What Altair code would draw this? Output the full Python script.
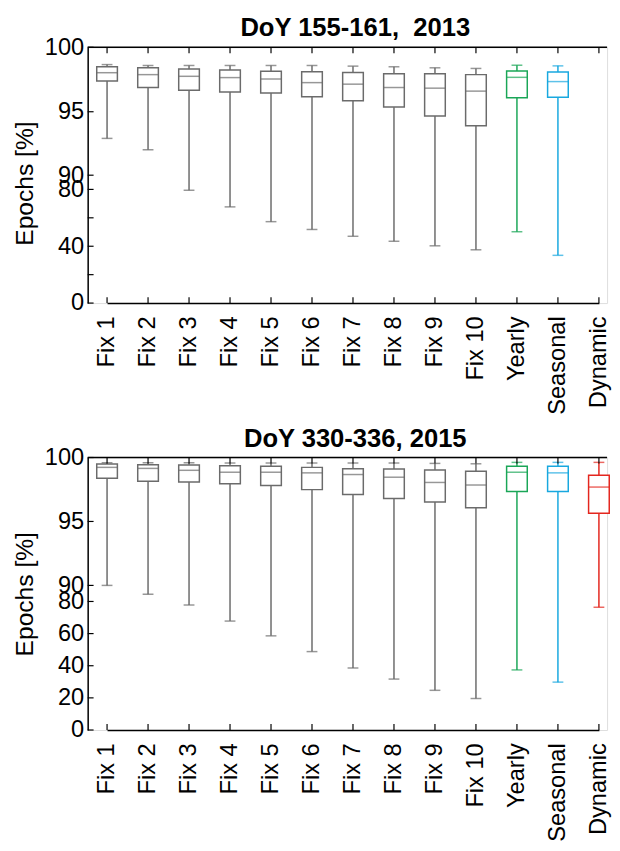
import altair as alt
import pandas as pd

categories = ["Fix 1", "Fix 2", "Fix 3", "Fix 4", "Fix 5", "Fix 6", "Fix 7",
              "Fix 8", "Fix 9", "Fix 10", "Yearly", "Seasonal", "Dynamic"]
groups = ["Fixed"] * 10 + ["Yearly", "Seasonal", "Dynamic"]

# DoY 155-161, 2013 (no Dynamic box)
top_min = [92.9, 92.0, 79.4, 67.7, 57.3, 51.8, 47.0, 43.5, 40.3, 37.5, 50.2, 33.6, None]
top_q1 = [97.39, 96.89, 96.66, 96.53, 96.45, 96.17, 95.86, 95.36, 94.67, 93.89, 96.09, 96.12, None]
top_med = [98.03, 97.88, 97.75, 97.65, 97.54, 97.26, 97.14, 96.88, 96.83, 96.60, 97.67, 97.34, None]
top_q3 = [98.49, 98.41, 98.31, 98.24, 98.15, 98.10, 98.05, 97.95, 97.95, 97.88, 98.16, 98.08, None]
top_max = [98.66, 98.59, 98.59, 98.59, 98.59, 98.59, 98.54, 98.49, 98.41, 98.36, 98.61, 98.56, None]

# DoY 330-336, 2015
bot_min = [90.0, 84.5, 77.8, 67.8, 58.6, 48.8, 38.6, 31.7, 24.7, 19.6, 37.4, 29.8, 76.4]
bot_q1 = [98.38, 98.15, 98.08, 97.95, 97.82, 97.49, 97.10, 96.80, 96.52, 96.08, 97.34, 97.34, 95.65]
bot_med = [99.23, 99.15, 99.00, 98.85, 98.85, 98.80, 98.67, 98.46, 98.05, 97.85, 98.85, 98.80, 97.69]
bot_q3 = [99.49, 99.44, 99.42, 99.36, 99.31, 99.23, 99.13, 99.10, 99.03, 98.92, 99.31, 99.31, 98.62]
bot_max = [99.59, 99.59, 99.59, 99.57, 99.57, 99.57, 99.57, 99.57, 99.54, 99.51, 99.62, 99.62, 99.62]

y_ticks = [0, 20, 40, 60, 80, 90, 95, 100]
y_domain = [0, 90, 95, 100]

group_domain = ["Fixed", "Yearly", "Seasonal", "Dynamic"]
group_colors = ["#6b6b6b", "#1aa657", "#18a8df", "#e4261e"]

FONT = "Liberation Sans"
W = 528


def panel(mins, q1s, meds, q3s, maxs, title, h, yrange, hidden_labels, title_y):
    df = pd.DataFrame({"cat": categories, "group": groups, "lo": mins,
                       "q1": q1s, "med": meds, "q3": q3s, "hi": maxs}).dropna()
    cats_df = pd.DataFrame({"cat": categories})
    ticks_df = pd.DataFrame({"v": y_ticks})
    one_df = pd.DataFrame({"k": [0]})

    xscale = alt.Scale(type="point", domain=categories, range=[19.7, 519.7], padding=0)
    yscale = alt.Scale(domain=y_domain, range=yrange, zero=False, nice=False)
    color = alt.Color("group:N", scale=alt.Scale(domain=group_domain, range=group_colors), legend=None)
    stroke = alt.Stroke("group:N", scale=alt.Scale(domain=group_domain, range=group_colors), legend=None)

    if hidden_labels:
        cond = " || ".join(f"datum.value == {v}" for v in hidden_labels)
        label_expr = f"({cond}) ? '' : datum.label"
    else:
        label_expr = "datum.label"

    xaxis = alt.Axis(title=None, labelAngle=270, labelFontSize=24, labelFont=FONT,
                     labelColor="black", ticks=False, labelPadding=13,
                     domainColor="black", domainWidth=1.5, labelAlign="right",
                     labelBaseline="middle")
    yaxis = alt.Axis(values=y_ticks, title="Epochs [%]", titleFontSize=25,
                     titleFont=FONT, titleFontWeight="normal", titleColor="black",
                     labelFontSize=24, labelFont=FONT, labelColor="black",
                     ticks=False, labelPadding=4, titlePadding=7, titleY=title_y,
                     labelExpr=label_expr, grid=False, domainColor="black",
                     domainWidth=1.5, labelOverlap=False, labelFlush=False)

    X = alt.X("cat:N", scale=xscale, axis=xaxis)

    def Y(field):
        return alt.Y(field, scale=yscale, axis=yaxis)

    base = alt.Chart(df)
    whisk = base.mark_rule(strokeWidth=1.5).encode(x=X, y=Y("lo:Q"), y2="hi:Q", color=color)
    box = base.mark_bar(fill="white", strokeWidth=1.5, size=21).encode(
        x=X, y=Y("q1:Q"), y2="q3:Q", stroke=stroke)
    med = base.mark_tick(size=21, thickness=1.5).encode(x=X, y=Y("med:Q"), color=color)
    cap_lo = base.mark_tick(size=11, thickness=1.5).encode(x=X, y=Y("lo:Q"), color=color)
    cap_hi = base.mark_tick(size=11, thickness=1.5).encode(x=X, y=Y("hi:Q"), color=color)

    cat_chart = alt.Chart(cats_df)
    xt_bot = cat_chart.mark_rule(color="black", strokeWidth=1.2).encode(
        x=X, y=alt.value(h), y2=alt.value(h - 6))
    xt_top = cat_chart.mark_rule(color="black", strokeWidth=1.2).encode(
        x=X, y=alt.value(0), y2=alt.value(6))
    top_line = alt.Chart(one_df).mark_rule(color="black", strokeWidth=1.5).encode(
        x=alt.value(0), x2=alt.value(W), y=alt.value(0))
    yt = alt.Chart(ticks_df).mark_rule(color="black", strokeWidth=1.2).encode(
        y=Y("v:Q"), x=alt.value(0), x2=alt.value(6))

    return alt.layer(whisk, box, med, cap_lo, cap_hi, xt_bot, xt_top, top_line, yt).properties(
        width=W, height=h,
        title=alt.TitleParams(title, fontSize=26, font=FONT, fontWeight="bold", color="black",
                              anchor="middle", dx=8, offset=-6, frame="group"),
    )


top = panel(top_min, top_q1, top_med, top_q3, top_max, "DoY 155-161,\u00a0 2013",
            260, [260, 130, 65.5, 0], [20, 60], 138)
bot = panel(bot_min, bot_q1, bot_med, bot_q3, bot_max, "DoY 330-336, 2015",
            277, [277, 130, 65, 0], [], 138.5)

chart = alt.vconcat(top, bot, spacing=10).properties(
    padding={"left": 4, "top": 0, "right": 0, "bottom": 0}
).configure_view(stroke=None).configure_axis(labelOverlap=False).configure(background="white")

chart.save("out.html", embed_options={"renderer": "svg", "actions": False})
